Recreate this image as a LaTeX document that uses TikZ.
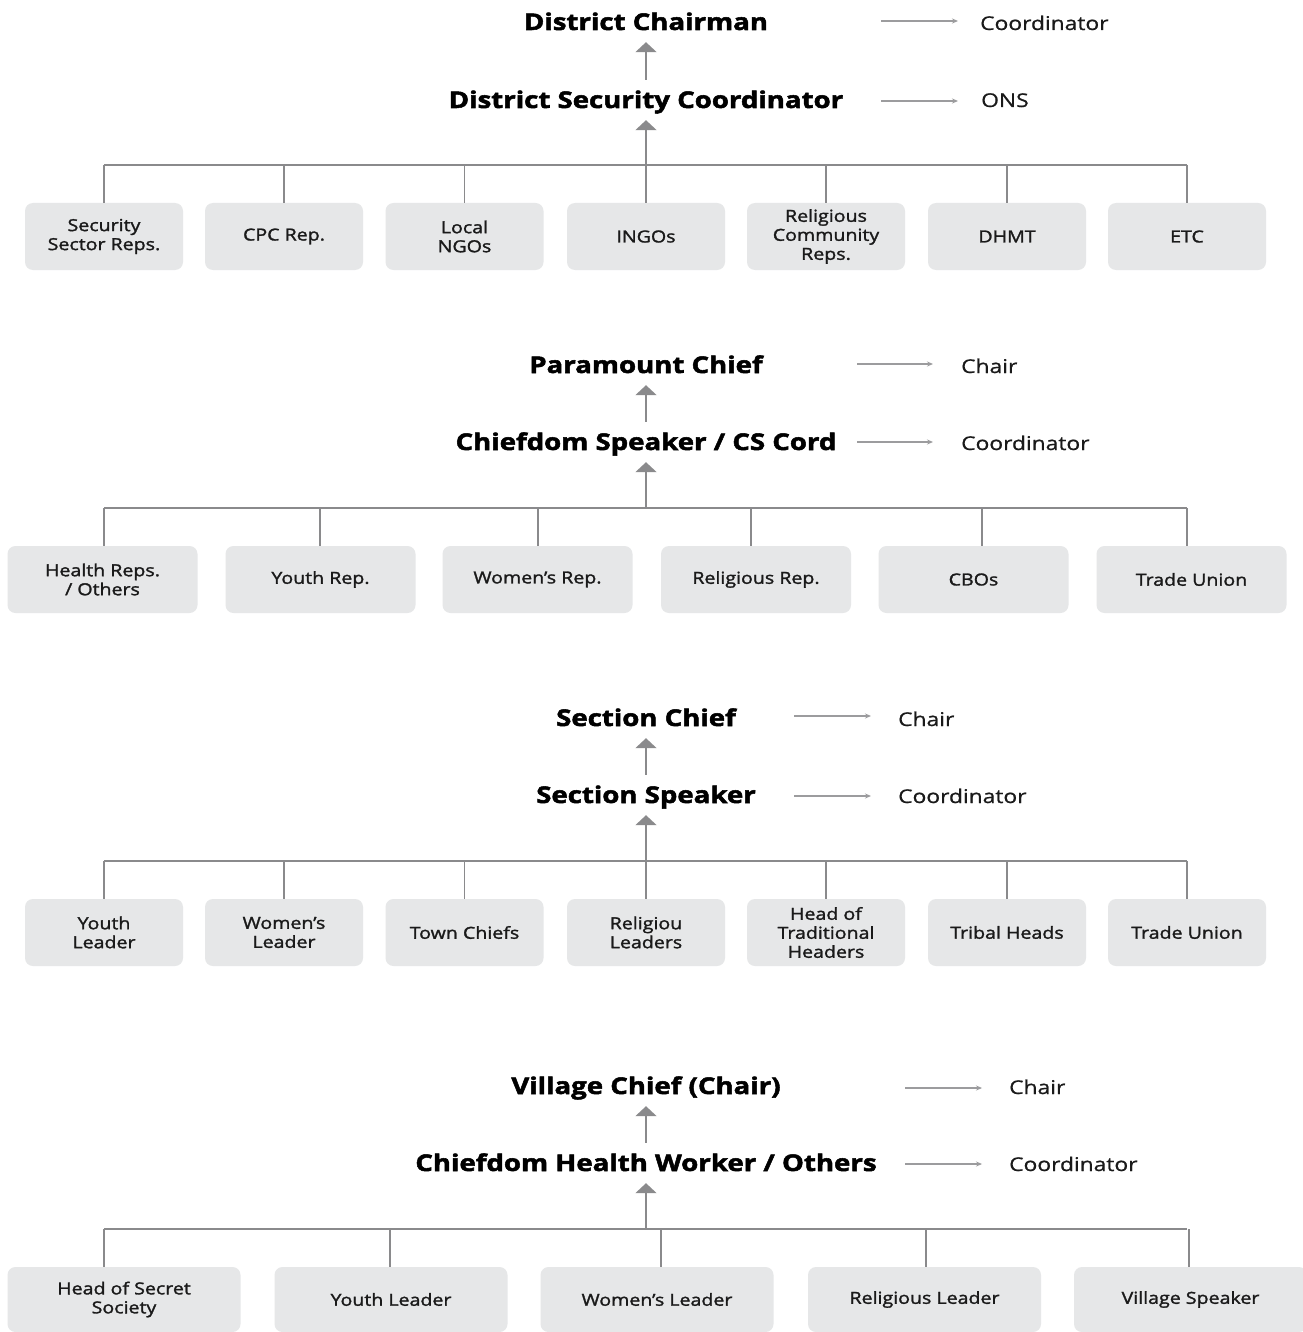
\documentclass[tikz,border=0pt]{standalone}
\usepackage{fontspec}
\setmainfont{Open Sans}
\newfontfamily\semib{Open Sans}[FakeStretch=1.18, FakeBold=1.6]
\newfontfamily\rolef{Open Sans}[FakeStretch=1.2, FakeBold=0.8]
\newfontfamily\xbold{Open Sans}[BoldFeatures={FakeBold=2.2,FakeStretch=1.2}]
\usetikzlibrary{arrows.meta}
\definecolor{boxfill}{HTML}{E6E7E8}
\definecolor{linegray}{HTML}{8A8A8C}
\definecolor{arrgray}{HTML}{9C9C9E}
\definecolor{txt}{HTML}{1A1A1A}
\tikzset{
  title/.style={font=\xbold\bfseries\fontsize{23}{27}\selectfont, text=black, minimum height=40pt, inner sep=0pt, text height=19pt, text depth=3pt},
  role/.style={font=\rolef\fontsize{19}{22}\selectfont, text=txt, anchor=west, inner sep=0pt, text height=17pt, text depth=3pt},
  member/.style={font=\semib\fontsize{16.6}{19}\selectfont, text=txt, fill=boxfill, rounded corners=8pt, align=center, inner sep=0pt, minimum height=67pt},
  w1/.style={minimum width=158pt},
  w2/.style={minimum width=190pt},
  w4/.style={minimum width=233pt, minimum height=65pt},
  conn/.style={draw=linegray, line width=1.6pt},
  up/.style={draw=linegray, line width=2pt, -{Triangle[width=21pt,length=10pt]}},
  side/.style={draw=arrgray, line width=1.2pt, -{Stealth[length=6pt,width=5pt]}}
}
\begin{document}
\begin{tikzpicture}[x=1pt,y=-1pt]
\useasboundingbox (0,0) rectangle (1302,1332);
\fill[white] (0,0) rectangle (1302,1332);

% ---------- Section 1 ----------
\node[title] (t11) at (646,22) {District Chairman};
\node[title] (t12) at (646,100) {District Security Coordinator};
\node[role] (r11) at (980,23) {Coordinator};
\node[role] (r12) at (981,100) {ONS};
\coordinate (a11) at (881,21);
\coordinate (e11) at (958,21);
\coordinate (a12) at (881,101);
\coordinate (e12) at (958,101);
\draw[side] (a11) -- (e11);
\draw[side] (a12) -- (e12);
\draw[up] (t12.north) -- (t11.south);
\coordinate (u1) at (646,155);
\draw[up] (u1) -- (t12.south);
\coordinate (h1l) at (104,165);
\coordinate (h1r) at (1187,165);
\draw[conn] (h1l) -- (h1r);
\draw[conn] (u1) -- (646,165);
\foreach \n/\x/\t in {1/104/{Security\\Sector Reps.},2/284/{CPC Rep.},3/464.5/{Local\\NGOs},4/646/{INGOs},5/826/{Religious\\Community\\Reps.},6/1007/{DHMT},7/1187/{ETC}}{
  \node[member,w1] (b1\n) at (\x,236.5) {\t};
  \draw[conn] (\x,165) -- (b1\n.north);
}

% ---------- Section 2 ----------
\node[title] (t21) at (646,365) {Paramount Chief};
\node[title] (t22) at (646,442) {Chiefdom Speaker / CS Cord};
\node[role] (r21) at (961,366) {Chair};
\node[role] (r22) at (961,443) {Coordinator};
\coordinate (a21) at (857,364);
\coordinate (e21) at (933,364);
\coordinate (a22) at (857,442);
\coordinate (e22) at (933,442);
\draw[side] (a21) -- (e21);
\draw[side] (a22) -- (e22);
\draw[up] (t22.north) -- (t21.south);
\coordinate (u2) at (646,497);
\draw[up] (u2) -- (t22.south);
\coordinate (h2l) at (104,508);
\coordinate (h2r) at (1187,508);
\draw[conn] (h2l) -- (h2r);
\draw[conn] (u2) -- (646,508);
\foreach \n/\x/\d/\t in {1/102.5/104/{Health Reps.\\/ Others},2/320.5/320/{Youth Rep.},3/537.5/538/{Women’s Rep.},4/756/751/{Religious Rep.},5/973.5/982/{CBOs},6/1191.5/1187/{Trade Union}}{
  \node[member,w2] (b2\n) at (\x,579.5) {\t};
  \draw[conn] (\d,508) -- (\d,0 |- b2\n.north);
}

% ---------- Section 3 ----------
\node[title] (t31) at (646,718) {Section Chief};
\node[title] (t32) at (646,795) {Section Speaker};
\node[role] (r31) at (898,719) {Chair};
\node[role] (r32) at (898,796) {Coordinator};
\coordinate (a31) at (794,716);
\coordinate (e31) at (871,716);
\coordinate (a32) at (794,796);
\coordinate (e32) at (871,796);
\draw[side] (a31) -- (e31);
\draw[side] (a32) -- (e32);
\draw[up] (t32.north) -- (t31.south);
\coordinate (u3) at (646,850);
\draw[up] (u3) -- (t32.south);
\coordinate (h3l) at (104,861);
\coordinate (h3r) at (1187,861);
\draw[conn] (h3l) -- (h3r);
\draw[conn] (u3) -- (646,861);
\foreach \n/\x/\t in {1/104/{Youth\\Leader},2/284/{Women’s\\Leader},3/464.5/{Town Chiefs},4/646/{Religiou\\Leaders},5/826/{Head of\\Traditional\\Headers},6/1007/{Tribal Heads},7/1187/{Trade Union}}{
  \node[member,w1] (b3\n) at (\x,932.5) {\t};
  \draw[conn] (\x,861) -- (b3\n.north);
}

% ---------- Section 4 ----------
\node[title] (t41) at (646,1086) {Village Chief (Chair)};
\node[title] (t42) at (646,1163) {Chiefdom Health Worker / Others};
\node[role] (r41) at (1009,1087) {Chair};
\node[role] (r42) at (1009,1164) {Coordinator};
\coordinate (a41) at (905,1088);
\coordinate (e41) at (982,1088);
\coordinate (a42) at (905,1164);
\coordinate (e42) at (982,1164);
\draw[side] (a41) -- (e41);
\draw[side] (a42) -- (e42);
\draw[up] (t42.north) -- (t41.south);
\coordinate (u4) at (646,1218);
\draw[up] (u4) -- (t42.south);
\coordinate (h4l) at (104,1229);
\coordinate (h4r) at (1187,1229);
\draw[conn] (h4l) -- (h4r);
\draw[conn] (u4) -- (646,1229);
\foreach \n/\x/\d/\t in {1/124/104/{Head of Secret\\Society},2/391/390/{Youth Leader},3/657/661/{Women’s Leader},4/924.5/926/{Religious Leader},5/1190.5/1189/{Village Speaker}}{
  \node[member,w4] (b4\n) at (\x,1299.5) {\t};
  \draw[conn] (\d,1229) -- (\d,0 |- b4\n.north);
}
\end{tikzpicture}
\end{document}
